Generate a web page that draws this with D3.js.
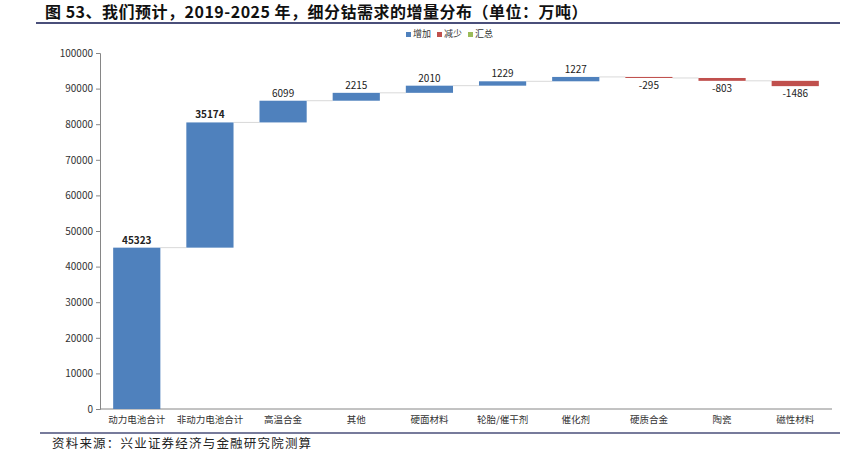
<!DOCTYPE html>
<html>
<head>
<meta charset="utf-8">
<script src="https://cdn.jsdelivr.net/npm/d3@7/dist/d3.min.js"></script>
<style>
  body { margin: 0; background: #fff; }
  svg text { font-family: "Noto Sans CJK SC", "Noto Sans", sans-serif; }
</style>
</head>
<body>
<div id="chart"></div>
<script>
// 数据
var categories = ['动力电池合计', '非动力电池合计', '高温合金', '其他', '硬面材料', '轮胎/催干剂', '催化剂', '硬质合金', '陶瓷', '磁性材料']
var values = [45323, 35174, 6099, 2215, 2010, 1229, 1227, -295, -803, -1486]
var yTicks = [0, 10000, 20000, 30000, 40000, 50000, 60000, 70000, 80000, 90000, 100000]
var legendNames = ['增加', '减少', '汇总']
var legendColors = ['#4F81BD', '#C0504D', '#9BBB59']

var width = 851, height = 460

var svg = d3.select('#chart').append('svg')
  .attr('width', width)
  .attr('height', height)

// 标题
svg.append('text')
  .attr('x', 45).attr('y', 18)
  .attr('font-size', 16)
  .attr('font-weight', 'bold')
  .attr('letter-spacing', 0.5)
  .attr('fill', '#111')
  .text('图 53、我们预计，2019-2025 年，细分钴需求的增量分布（单位：万吨）')

svg.append('line')
  .attr('x1', 36).attr('x2', 840).attr('y1', 23).attr('y2', 23)
  .attr('stroke', '#4a4f7a').attr('stroke-width', 2)

// 累计值
var cum = 0
var steps = values.map(function(v, i) {
  var start = cum
  cum += v
  return { name: categories[i], value: v, start: start, end: cum }
})

var x = d3.scaleBand().domain(categories).range([100, 832]).paddingInner(0.355).paddingOuter(0.18)
var y = d3.scaleLinear().domain([0, 100000]).range([409, 53])

// y轴
var yAxis = svg.append('g')
  .attr('transform', 'translate(100,0)')
  .call(d3.axisLeft(y).tickValues(yTicks).tickSize(4).tickPadding(3).tickFormat(d3.format('d')))
yAxis.select('.domain').attr('stroke', '#868686')
yAxis.selectAll('.tick line').attr('stroke', '#868686')
yAxis.selectAll('.tick text').attr('font-size', 10).attr('fill', '#333')

// x轴
var xAxis = svg.append('g')
  .attr('transform', 'translate(0,409)')
  .call(d3.axisBottom(x).tickSize(0).tickPadding(7))
xAxis.select('.domain').attr('stroke', '#868686').attr('d', 'M100,0H832')
xAxis.selectAll('.tick text').attr('font-size', 9.5).attr('fill', '#333')

// 连接线
svg.selectAll('.connector')
  .data(steps.slice(0, -1))
  .enter()
  .append('line')
  .attr('class', 'connector')
  .attr('x1', function(d) { return x(d.name) + x.bandwidth() })
  .attr('x2', function(d, i) { return x(categories[i + 1]) })
  .attr('y1', function(d) { return y(d.end) })
  .attr('y2', function(d) { return y(d.end) })
  .attr('stroke', '#d9d9d9')
  .attr('stroke-width', 1)

// 柱子
svg.selectAll('.bar')
  .data(steps)
  .enter()
  .append('rect')
  .attr('class', 'bar')
  .attr('x', function(d) { return x(d.name) })
  .attr('width', x.bandwidth())
  .attr('y', function(d) { return y(Math.max(d.start, d.end)) })
  .attr('height', function(d) { return Math.abs(y(d.start) - y(d.end)) })
  .attr('fill', function(d) { return d.value >= 0 ? legendColors[0] : legendColors[1] })

// 数值标签
svg.selectAll('.label')
  .data(steps)
  .enter()
  .append('text')
  .attr('class', 'label')
  .attr('x', function(d) { return x(d.name) + x.bandwidth() / 2 })
  .attr('y', function(d) { return d.value >= 0 ? y(d.end) - 4 : y(d.end) + 11 })
  .attr('text-anchor', 'middle')
  .attr('font-size', 10)
  .attr('font-weight', function(d, i) { return i < 2 ? 'bold' : 'normal' })
  .attr('fill', '#222')
  .text(function(d) { return d.value })

// 图例
var legend = svg.append('g').attr('transform', 'translate(406,35)')
var lx = 0
legendNames.forEach(function(n, i) {
  legend.append('rect').attr('x', lx).attr('y', -3).attr('width', 5).attr('height', 5).attr('fill', legendColors[i])
  legend.append('text').attr('x', lx + 7).attr('y', 2).attr('font-size', 9).attr('fill', '#333').text(n)
  lx += 31
})

// 脚注
svg.append('line')
  .attr('x1', 40).attr('x2', 840).attr('y1', 433).attr('y2', 433)
  .attr('stroke', '#4a4f7a').attr('stroke-width', 1.5)

svg.append('text')
  .attr('x', 52).attr('y', 448)
  .attr('font-size', 12.5)
  .attr('letter-spacing', 1.2)
  .attr('fill', '#222')
  .text('资料来源：兴业证券经济与金融研究院测算')
</script>
</body>
</html>
